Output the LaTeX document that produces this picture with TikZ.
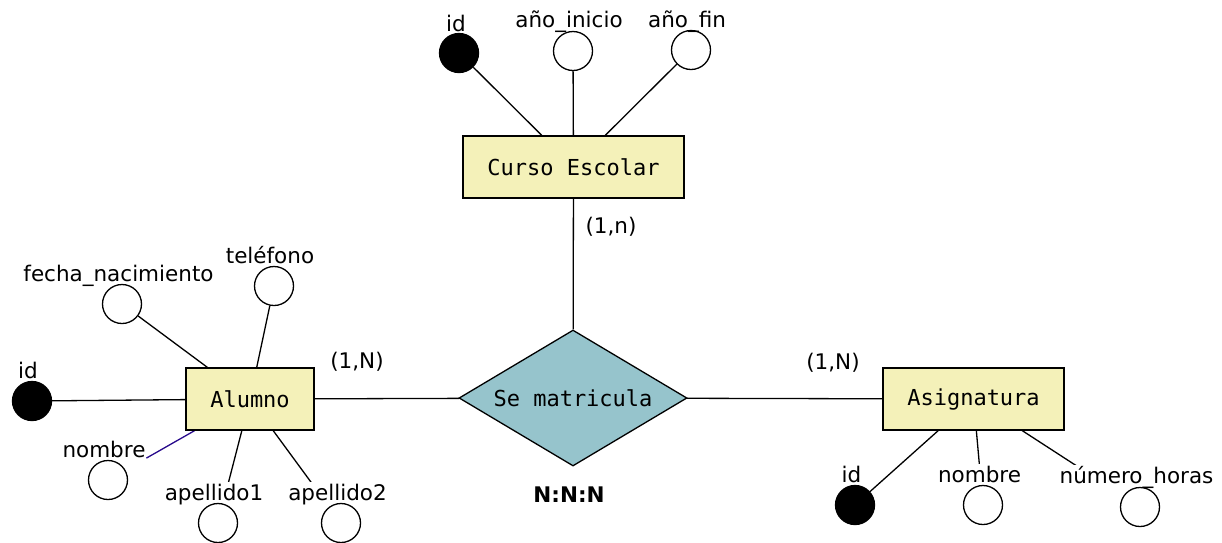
\documentclass[tikz,border=0pt]{standalone}
\usepackage{fontspec}
\setmainfont{DejaVu Sans}
\setmonofont{DejaVu Sans Mono}
\usetikzlibrary{shapes.geometric,backgrounds}
\definecolor{entfill}{RGB}{244,241,185}
\definecolor{relfill}{RGB}{150,196,204}
\definecolor{linkblue}{RGB}{40,10,140}
\newcommand{\lblfont}{\fontsize{21.5pt}{26pt}\selectfont}
\newcommand{\entfont}{\ttfamily\fontsize{22pt}{26pt}\selectfont}
\tikzset{
  entity/.style={rectangle, draw, fill=entfill, font=\entfont, minimum height=62pt, inner sep=0pt, line width=1.3pt},
  relation/.style={diamond, draw, fill=relfill, font=\entfont, aspect=1.68, minimum width=228pt, minimum height=136pt, inner sep=0pt, line width=1.3pt},
  attr/.style={circle, draw, minimum size=39pt, inner sep=0pt, line width=1.3pt},
  keyattr/.style={attr, fill=black},
  lbl/.style={font=\lblfont, fill=white, inner xsep=1pt, inner ysep=2pt, text height=16.3pt, text depth=5.4pt, anchor=base},
  conn/.style={line width=1.3pt}
}

\begin{document}
\begin{tikzpicture}[x=1pt, y=-1pt]
    \useasboundingbox (0,0) rectangle (1222,542);
    \node[entity, minimum width=221pt] (ent0) at (573.5,167){Curso Escolar};
    \node[entity, minimum width=128pt] (ent1) at (250,399){Alumno};
    \node[entity, minimum width=181pt] (ent2) at (973.5,399){Asignatura};
    \node[relation] (rel0) at (573,398){Se matricula};
    % etiquetas
    \node[lbl] (lid0) at (456,31){id};
    \node[lbl] (lai) at (569,27){año\_inicio};
    \node[lbl] (laf) at (687,27){año\_fin};
    \node[lbl] (lid1) at (28,378){id};
    \node[lbl] (lfn) at (118.5,281){fecha\_nacimiento};
    \node[lbl] (ltel) at (270,263){teléfono};
    \node[lbl] (lnom1) at (104,457){nombre};
    \node[lbl] (lap1) at (214,500){apellido1};
    \node[lbl] (lap2) at (337.5,500){apellido2};
    \node[lbl] (lid2) at (851.5,482){id};
    \node[lbl] (lnom2) at (979.5,482){nombre};
    \node[lbl] (lnh) at (1136.5,483){número\_horas};
    \node[lbl] (lc0) at (611,233){(1,n)};
    \node[lbl] (lc1) at (357,368){(1,N)};
    \node[lbl] (lc2) at (833,369){(1,N)};
    \node[lbl, font=\lblfont\bfseries] (lnnn) at (569,502){N:N:N};
    % atributos
    \node[keyattr] (att0) at (459,53){};
    \node[attr] (att1) at (573,51){};
    \node[attr] (att2) at (691,50){};
    \node[keyattr] (att3) at (32,401){};
    \node[attr] (att4) at (122,304){};
    \node[attr] (att5) at (274,286){};
    \node[attr] (att6) at (108,480){};
    \node[attr] (att7) at (218,523){};
    \node[attr] (att8) at (341,523){};
    \node[keyattr] (att9) at (855,505){};
    \node[attr] (att10) at (983,505){};
    \node[attr] (att11) at (1140,507){};
    \begin{scope}[on background layer]
    \draw[ conn](ent0) -- (att0);
    \draw[ conn](ent0) -- (att1);
    \draw[ conn](ent0) -- (att2);
    \draw[ conn](ent1) -- (att3);
    \draw[ conn](ent1) -- (att4);
    \draw[ conn](ent1) -- (att5);
    \draw[ conn, linkblue, shorten >=24pt](ent1) -- (att6);
    \draw[ conn](ent1) -- (att7);
    \draw[ conn](ent1) -- (att8);
    \draw[ conn](ent2) -- (att9);
    \draw[ conn](ent2) -- (att10);
    \draw[ conn, shorten >=13pt](ent2) -- (att11);
    \draw[ conn](ent0) -- (rel0);
    \draw[ conn](ent1) -- (rel0);
    \draw[ conn](rel0) -- (ent2);
    \end{scope}
  \end{tikzpicture}
\end{document}
